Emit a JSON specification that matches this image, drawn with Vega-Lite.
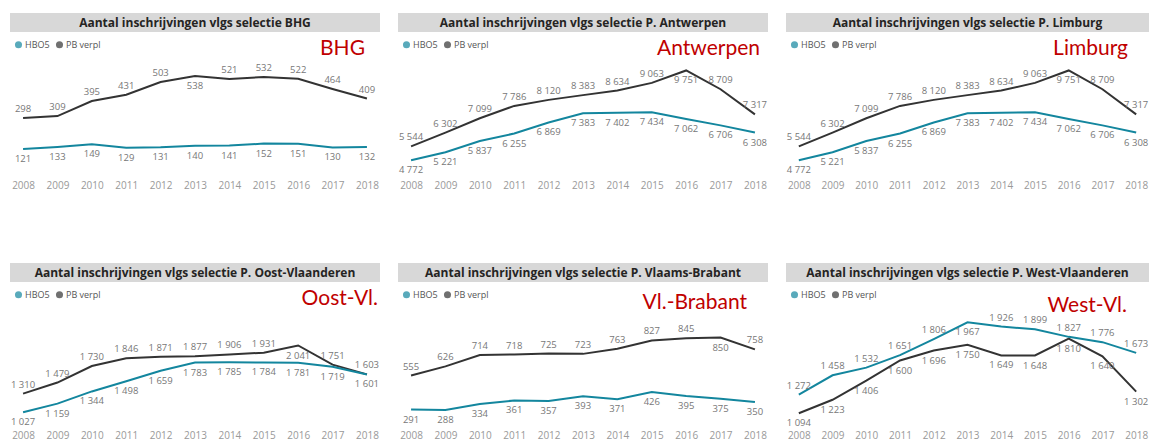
{
"$schema": "https://vega.github.io/schema/vega-lite/v6.json",
"padding": {"left": 10, "top": 13, "right": 0, "bottom": 0},
"background": "white",
"datasets": {"d": [
{"p":"BHG","s":"PB verpl","y":"2008","v":298},{"p":"BHG","s":"PB verpl","y":"2009","v":309},{"p":"BHG","s":"PB verpl","y":"2010","v":395},{"p":"BHG","s":"PB verpl","y":"2011","v":431},{"p":"BHG","s":"PB verpl","y":"2012","v":503},{"p":"BHG","s":"PB verpl","y":"2013","v":538},{"p":"BHG","s":"PB verpl","y":"2014","v":521},{"p":"BHG","s":"PB verpl","y":"2015","v":532},{"p":"BHG","s":"PB verpl","y":"2016","v":522},{"p":"BHG","s":"PB verpl","y":"2017","v":464},{"p":"BHG","s":"PB verpl","y":"2018","v":409},
{"p":"BHG","s":"HBO5","y":"2008","v":121},{"p":"BHG","s":"HBO5","y":"2009","v":133},{"p":"BHG","s":"HBO5","y":"2010","v":149},{"p":"BHG","s":"HBO5","y":"2011","v":129},{"p":"BHG","s":"HBO5","y":"2012","v":131},{"p":"BHG","s":"HBO5","y":"2013","v":140},{"p":"BHG","s":"HBO5","y":"2014","v":141},{"p":"BHG","s":"HBO5","y":"2015","v":152},{"p":"BHG","s":"HBO5","y":"2016","v":151},{"p":"BHG","s":"HBO5","y":"2017","v":130},{"p":"BHG","s":"HBO5","y":"2018","v":132},
{"p":"ANT","s":"PB verpl","y":"2008","v":5544},{"p":"ANT","s":"PB verpl","y":"2009","v":6302},{"p":"ANT","s":"PB verpl","y":"2010","v":7099},{"p":"ANT","s":"PB verpl","y":"2011","v":7786},{"p":"ANT","s":"PB verpl","y":"2012","v":8120},{"p":"ANT","s":"PB verpl","y":"2013","v":8383},{"p":"ANT","s":"PB verpl","y":"2014","v":8634},{"p":"ANT","s":"PB verpl","y":"2015","v":9063},{"p":"ANT","s":"PB verpl","y":"2016","v":9751},{"p":"ANT","s":"PB verpl","y":"2017","v":8709},{"p":"ANT","s":"PB verpl","y":"2018","v":7317},
{"p":"ANT","s":"HBO5","y":"2008","v":4772},{"p":"ANT","s":"HBO5","y":"2009","v":5221},{"p":"ANT","s":"HBO5","y":"2010","v":5837},{"p":"ANT","s":"HBO5","y":"2011","v":6255},{"p":"ANT","s":"HBO5","y":"2012","v":6869},{"p":"ANT","s":"HBO5","y":"2013","v":7383},{"p":"ANT","s":"HBO5","y":"2014","v":7402},{"p":"ANT","s":"HBO5","y":"2015","v":7434},{"p":"ANT","s":"HBO5","y":"2016","v":7062},{"p":"ANT","s":"HBO5","y":"2017","v":6706},{"p":"ANT","s":"HBO5","y":"2018","v":6308},
{"p":"LIM","s":"PB verpl","y":"2008","v":5544},{"p":"LIM","s":"PB verpl","y":"2009","v":6302},{"p":"LIM","s":"PB verpl","y":"2010","v":7099},{"p":"LIM","s":"PB verpl","y":"2011","v":7786},{"p":"LIM","s":"PB verpl","y":"2012","v":8120},{"p":"LIM","s":"PB verpl","y":"2013","v":8383},{"p":"LIM","s":"PB verpl","y":"2014","v":8634},{"p":"LIM","s":"PB verpl","y":"2015","v":9063},{"p":"LIM","s":"PB verpl","y":"2016","v":9751},{"p":"LIM","s":"PB verpl","y":"2017","v":8709},{"p":"LIM","s":"PB verpl","y":"2018","v":7317},
{"p":"LIM","s":"HBO5","y":"2008","v":4772},{"p":"LIM","s":"HBO5","y":"2009","v":5221},{"p":"LIM","s":"HBO5","y":"2010","v":5837},{"p":"LIM","s":"HBO5","y":"2011","v":6255},{"p":"LIM","s":"HBO5","y":"2012","v":6869},{"p":"LIM","s":"HBO5","y":"2013","v":7383},{"p":"LIM","s":"HBO5","y":"2014","v":7402},{"p":"LIM","s":"HBO5","y":"2015","v":7434},{"p":"LIM","s":"HBO5","y":"2016","v":7062},{"p":"LIM","s":"HBO5","y":"2017","v":6706},{"p":"LIM","s":"HBO5","y":"2018","v":6308},
{"p":"OVL","s":"PB verpl","y":"2008","v":1310},{"p":"OVL","s":"PB verpl","y":"2009","v":1479},{"p":"OVL","s":"PB verpl","y":"2010","v":1730},{"p":"OVL","s":"PB verpl","y":"2011","v":1846},{"p":"OVL","s":"PB verpl","y":"2012","v":1871},{"p":"OVL","s":"PB verpl","y":"2013","v":1877},{"p":"OVL","s":"PB verpl","y":"2014","v":1906},{"p":"OVL","s":"PB verpl","y":"2015","v":1931},{"p":"OVL","s":"PB verpl","y":"2016","v":2041},{"p":"OVL","s":"PB verpl","y":"2017","v":1751},{"p":"OVL","s":"PB verpl","y":"2018","v":1603},
{"p":"OVL","s":"HBO5","y":"2008","v":1027},{"p":"OVL","s":"HBO5","y":"2009","v":1159},{"p":"OVL","s":"HBO5","y":"2010","v":1344},{"p":"OVL","s":"HBO5","y":"2011","v":1498},{"p":"OVL","s":"HBO5","y":"2012","v":1659},{"p":"OVL","s":"HBO5","y":"2013","v":1783},{"p":"OVL","s":"HBO5","y":"2014","v":1785},{"p":"OVL","s":"HBO5","y":"2015","v":1784},{"p":"OVL","s":"HBO5","y":"2016","v":1781},{"p":"OVL","s":"HBO5","y":"2017","v":1719},{"p":"OVL","s":"HBO5","y":"2018","v":1601},
{"p":"VBR","s":"PB verpl","y":"2008","v":555},{"p":"VBR","s":"PB verpl","y":"2009","v":626},{"p":"VBR","s":"PB verpl","y":"2010","v":714},{"p":"VBR","s":"PB verpl","y":"2011","v":718},{"p":"VBR","s":"PB verpl","y":"2012","v":725},{"p":"VBR","s":"PB verpl","y":"2013","v":723},{"p":"VBR","s":"PB verpl","y":"2014","v":763},{"p":"VBR","s":"PB verpl","y":"2015","v":827},{"p":"VBR","s":"PB verpl","y":"2016","v":845},{"p":"VBR","s":"PB verpl","y":"2017","v":850},{"p":"VBR","s":"PB verpl","y":"2018","v":758},
{"p":"VBR","s":"HBO5","y":"2008","v":291},{"p":"VBR","s":"HBO5","y":"2009","v":288},{"p":"VBR","s":"HBO5","y":"2010","v":334},{"p":"VBR","s":"HBO5","y":"2011","v":361},{"p":"VBR","s":"HBO5","y":"2012","v":357},{"p":"VBR","s":"HBO5","y":"2013","v":393},{"p":"VBR","s":"HBO5","y":"2014","v":371},{"p":"VBR","s":"HBO5","y":"2015","v":426},{"p":"VBR","s":"HBO5","y":"2016","v":395},{"p":"VBR","s":"HBO5","y":"2017","v":375},{"p":"VBR","s":"HBO5","y":"2018","v":350},
{"p":"WVL","s":"PB verpl","y":"2008","v":1094},{"p":"WVL","s":"PB verpl","y":"2009","v":1223},{"p":"WVL","s":"PB verpl","y":"2010","v":1406},{"p":"WVL","s":"PB verpl","y":"2011","v":1600},{"p":"WVL","s":"PB verpl","y":"2012","v":1696},{"p":"WVL","s":"PB verpl","y":"2013","v":1750},{"p":"WVL","s":"PB verpl","y":"2014","v":1649},{"p":"WVL","s":"PB verpl","y":"2015","v":1648},{"p":"WVL","s":"PB verpl","y":"2016","v":1810},{"p":"WVL","s":"PB verpl","y":"2017","v":1640},{"p":"WVL","s":"PB verpl","y":"2018","v":1302},
{"p":"WVL","s":"HBO5","y":"2008","v":1272},{"p":"WVL","s":"HBO5","y":"2009","v":1458},{"p":"WVL","s":"HBO5","y":"2010","v":1532},{"p":"WVL","s":"HBO5","y":"2011","v":1651},{"p":"WVL","s":"HBO5","y":"2012","v":1806},{"p":"WVL","s":"HBO5","y":"2013","v":1967},{"p":"WVL","s":"HBO5","y":"2014","v":1926},{"p":"WVL","s":"HBO5","y":"2015","v":1899},{"p":"WVL","s":"HBO5","y":"2016","v":1827},{"p":"WVL","s":"HBO5","y":"2017","v":1776},{"p":"WVL","s":"HBO5","y":"2018","v":1673}
]},
"columns": 3,
"spacing": {"row": 73, "column": 18},
"resolve": {"scale": {"color": "independent"}, "legend": {"color": "independent"}},
"concat": [
{"spacing": 4, "resolve": {"scale": {"color": "independent"}, "legend": {"color": "independent"}}, "vconcat": [
 {"width": 370, "height": 19, "data": {"values": [{}]}, "view": {"fill": "#d8d8d8", "stroke": null}, "mark": {"type": "text", "fontWeight": "bold", "fontSize": 12, "color": "#252423", "font": "Open Sans"}, "encoding": {"text": {"value": "Aantal inschrijvingen vlgs selectie BHG"}}},
 {"width": 370, "height": 136, "data": {"name": "d"},
  "transform": [{"filter": "datum.p === 'BHG'"}, {"joinaggregate": [{"op": "max", "field": "v", "as": "mx"}], "groupby": ["y"]}, {"joinaggregate": [{"op": "max", "field": "v", "as": "pmax"}]}],
  "title": {"text": "BHG", "orient": "top", "anchor": "end", "frame": "group", "offset": -40, "dx": -15, "baseline": "alphabetic", "color": "#C00000", "font": "Lato", "fontSize": 21, "fontWeight": "normal"},
  "encoding": {
   "x": {"field": "y", "type": "ordinal", "scale": {"type": "point", "padding": 0.38}, "axis": {"title": null, "labelAngle": 0, "domain": false, "ticks": false, "grid": false, "labelPadding": 8, "labelFontSize": 10, "labelColor": "#999"}},
   "y": {"field": "v", "type": "quantitative", "scale": {"domain": [-10, 766], "nice": false, "zero": false}, "axis": null},
   "color": {"field": "s", "type": "nominal", "scale": {"domain": ["HBO5", "PB verpl"], "range": ["#13869E", "#333333"]}, "legend": {"title": null, "orient": "top-left", "direction": "horizontal", "offset": 4, "symbolType": "circle", "symbolSize": 50, "symbolStrokeWidth": 0, "labelFontSize": 9, "labelColor": "#555", "columnPadding": 5, "labelOffset": 2, "padding": 0}}
  },
  "layer": [
   {"mark": {"type": "point", "filled": true, "size": 0}},
   {"mark": {"type": "line", "strokeWidth": 2}},
   {"transform": [{"filter": "datum.v === datum.mx && datum.v !== datum.pmax"}], "mark": {"type": "text", "dy": -9, "fontSize": 9.5}, "encoding": {"text": {"field": "v", "type": "quantitative", "format": ",d"}, "color": {"value": "#777"}}},
   {"transform": [{"filter": "datum.v !== datum.mx || datum.v === datum.pmax"}], "mark": {"type": "text", "dy": 10, "fontSize": 9.5}, "encoding": {"text": {"field": "v", "type": "quantitative", "format": ",d"}, "color": {"value": "#777"}}}
  ]}
]},
{"spacing": 4, "resolve": {"scale": {"color": "independent"}, "legend": {"color": "independent"}}, "vconcat": [
 {"width": 370, "height": 19, "data": {"values": [{}]}, "view": {"fill": "#d8d8d8", "stroke": null}, "mark": {"type": "text", "fontWeight": "bold", "fontSize": 12, "color": "#252423", "font": "Open Sans"}, "encoding": {"text": {"value": "Aantal inschrijvingen vlgs selectie P. Antwerpen"}}},
 {"width": 370, "height": 136, "data": {"name": "d"},
  "transform": [{"filter": "datum.p === 'ANT'"}, {"joinaggregate": [{"op": "max", "field": "v", "as": "mx"}], "groupby": ["y"]}, {"joinaggregate": [{"op": "max", "field": "v", "as": "pmax"}]}],
  "title": {"text": "Antwerpen", "orient": "top", "anchor": "end", "frame": "group", "offset": -40, "dx": -8, "baseline": "alphabetic", "color": "#C00000", "font": "Lato", "fontSize": 21, "fontWeight": "normal"},
  "encoding": {
   "x": {"field": "y", "type": "ordinal", "scale": {"type": "point", "padding": 0.38}, "axis": {"title": null, "labelAngle": 0, "domain": false, "ticks": false, "grid": false, "labelPadding": 8, "labelFontSize": 10, "labelColor": "#999"}},
   "y": {"field": "v", "type": "quantitative", "scale": {"domain": [4122, 11660], "nice": false, "zero": false}, "axis": null},
   "color": {"field": "s", "type": "nominal", "scale": {"domain": ["HBO5", "PB verpl"], "range": ["#13869E", "#333333"]}, "legend": {"title": null, "orient": "top-left", "direction": "horizontal", "offset": 4, "symbolType": "circle", "symbolSize": 50, "symbolStrokeWidth": 0, "labelFontSize": 9, "labelColor": "#555", "columnPadding": 5, "labelOffset": 2, "padding": 0}}
  },
  "layer": [
   {"mark": {"type": "point", "filled": true, "size": 0}},
   {"mark": {"type": "line", "strokeWidth": 2}},
   {"transform": [{"filter": "datum.v === datum.mx && datum.v !== datum.pmax"}], "mark": {"type": "text", "dy": -9, "fontSize": 9.5}, "encoding": {"text": {"field": "v", "type": "quantitative", "format": ",d"}, "color": {"value": "#777"}}},
   {"transform": [{"filter": "datum.v !== datum.mx || datum.v === datum.pmax"}], "mark": {"type": "text", "dy": 10, "fontSize": 9.5}, "encoding": {"text": {"field": "v", "type": "quantitative", "format": ",d"}, "color": {"value": "#777"}}}
  ]}
]},
{"spacing": 4, "resolve": {"scale": {"color": "independent"}, "legend": {"color": "independent"}}, "vconcat": [
 {"width": 363, "height": 19, "data": {"values": [{}]}, "view": {"fill": "#d8d8d8", "stroke": null}, "mark": {"type": "text", "fontWeight": "bold", "fontSize": 12, "color": "#252423", "font": "Open Sans"}, "encoding": {"text": {"value": "Aantal inschrijvingen vlgs selectie P. Limburg"}}},
 {"width": 363, "height": 136, "data": {"name": "d"},
  "transform": [{"filter": "datum.p === 'LIM'"}, {"joinaggregate": [{"op": "max", "field": "v", "as": "mx"}], "groupby": ["y"]}, {"joinaggregate": [{"op": "max", "field": "v", "as": "pmax"}]}],
  "title": {"text": "Limburg", "orient": "top", "anchor": "end", "frame": "group", "offset": -40, "dx": -21, "baseline": "alphabetic", "color": "#C00000", "font": "Lato", "fontSize": 21, "fontWeight": "normal"},
  "encoding": {
   "x": {"field": "y", "type": "ordinal", "scale": {"type": "point", "padding": 0.38}, "axis": {"title": null, "labelAngle": 0, "domain": false, "ticks": false, "grid": false, "labelPadding": 8, "labelFontSize": 10, "labelColor": "#999"}},
   "y": {"field": "v", "type": "quantitative", "scale": {"domain": [4122, 11660], "nice": false, "zero": false}, "axis": null},
   "color": {"field": "s", "type": "nominal", "scale": {"domain": ["HBO5", "PB verpl"], "range": ["#13869E", "#333333"]}, "legend": {"title": null, "orient": "top-left", "direction": "horizontal", "offset": 4, "symbolType": "circle", "symbolSize": 50, "symbolStrokeWidth": 0, "labelFontSize": 9, "labelColor": "#555", "columnPadding": 5, "labelOffset": 2, "padding": 0}}
  },
  "layer": [
   {"mark": {"type": "point", "filled": true, "size": 0}},
   {"mark": {"type": "line", "strokeWidth": 2}},
   {"transform": [{"filter": "datum.v === datum.mx && datum.v !== datum.pmax"}], "mark": {"type": "text", "dy": -9, "fontSize": 9.5}, "encoding": {"text": {"field": "v", "type": "quantitative", "format": ",d"}, "color": {"value": "#777"}}},
   {"transform": [{"filter": "datum.v !== datum.mx || datum.v === datum.pmax"}], "mark": {"type": "text", "dy": 10, "fontSize": 9.5}, "encoding": {"text": {"field": "v", "type": "quantitative", "format": ",d"}, "color": {"value": "#777"}}}
  ]}
]},
{"spacing": 4, "resolve": {"scale": {"color": "independent"}, "legend": {"color": "independent"}}, "vconcat": [
 {"width": 370, "height": 19, "data": {"values": [{}]}, "view": {"fill": "#d8d8d8", "stroke": null}, "mark": {"type": "text", "fontWeight": "bold", "fontSize": 12, "color": "#252423", "font": "Open Sans"}, "encoding": {"text": {"value": "Aantal inschrijvingen vlgs selectie P. Oost-Vlaanderen"}}},
 {"width": 370, "height": 136, "data": {"name": "d"},
  "transform": [{"filter": "datum.p === 'OVL'"}, {"joinaggregate": [{"op": "max", "field": "v", "as": "mx"}], "groupby": ["y"]}, {"joinaggregate": [{"op": "max", "field": "v", "as": "pmax"}]}],
  "title": {"text": "Oost-Vl.", "orient": "top", "anchor": "end", "frame": "group", "offset": -40, "dx": -2, "baseline": "alphabetic", "color": "#C00000", "font": "Lato", "fontSize": 21, "fontWeight": "normal"},
  "encoding": {
   "x": {"field": "y", "type": "ordinal", "scale": {"type": "point", "padding": 0.38}, "axis": {"title": null, "labelAngle": 0, "domain": false, "ticks": false, "grid": false, "labelPadding": 8, "labelFontSize": 10, "labelColor": "#999"}},
   "y": {"field": "v", "type": "quantitative", "scale": {"domain": [880, 2944], "nice": false, "zero": false}, "axis": null},
   "color": {"field": "s", "type": "nominal", "scale": {"domain": ["HBO5", "PB verpl"], "range": ["#13869E", "#333333"]}, "legend": {"title": null, "orient": "top-left", "direction": "horizontal", "offset": 4, "symbolType": "circle", "symbolSize": 50, "symbolStrokeWidth": 0, "labelFontSize": 9, "labelColor": "#555", "columnPadding": 5, "labelOffset": 2, "padding": 0}}
  },
  "layer": [
   {"mark": {"type": "point", "filled": true, "size": 0}},
   {"mark": {"type": "line", "strokeWidth": 2}},
   {"transform": [{"filter": "datum.v === datum.mx && datum.v !== datum.pmax"}], "mark": {"type": "text", "dy": -9, "fontSize": 9.5}, "encoding": {"text": {"field": "v", "type": "quantitative", "format": ",d"}, "color": {"value": "#777"}}},
   {"transform": [{"filter": "datum.v !== datum.mx || datum.v === datum.pmax"}], "mark": {"type": "text", "dy": 10, "fontSize": 9.5}, "encoding": {"text": {"field": "v", "type": "quantitative", "format": ",d"}, "color": {"value": "#777"}}}
  ]}
]},
{"spacing": 4, "resolve": {"scale": {"color": "independent"}, "legend": {"color": "independent"}}, "vconcat": [
 {"width": 370, "height": 19, "data": {"values": [{}]}, "view": {"fill": "#d8d8d8", "stroke": null}, "mark": {"type": "text", "fontWeight": "bold", "fontSize": 12, "color": "#252423", "font": "Open Sans"}, "encoding": {"text": {"value": "Aantal inschrijvingen vlgs selectie P. Vlaams-Brabant"}}},
 {"width": 370, "height": 136, "data": {"name": "d"},
  "transform": [{"filter": "datum.p === 'VBR'"}, {"joinaggregate": [{"op": "max", "field": "v", "as": "mx"}], "groupby": ["y"]}, {"joinaggregate": [{"op": "max", "field": "v", "as": "pmax"}]}],
  "title": {"text": "Vl.-Brabant", "orient": "top", "anchor": "end", "frame": "group", "offset": -44, "dx": -21, "baseline": "alphabetic", "color": "#C00000", "font": "Lato", "fontSize": 21, "fontWeight": "normal"},
  "encoding": {
   "x": {"field": "y", "type": "ordinal", "scale": {"type": "point", "padding": 0.38}, "axis": {"title": null, "labelAngle": 0, "domain": false, "ticks": false, "grid": false, "labelPadding": 8, "labelFontSize": 10, "labelColor": "#999"}},
   "y": {"field": "v", "type": "quantitative", "scale": {"domain": [194, 1250], "nice": false, "zero": false}, "axis": null},
   "color": {"field": "s", "type": "nominal", "scale": {"domain": ["HBO5", "PB verpl"], "range": ["#13869E", "#333333"]}, "legend": {"title": null, "orient": "top-left", "direction": "horizontal", "offset": 4, "symbolType": "circle", "symbolSize": 50, "symbolStrokeWidth": 0, "labelFontSize": 9, "labelColor": "#555", "columnPadding": 5, "labelOffset": 2, "padding": 0}}
  },
  "layer": [
   {"mark": {"type": "point", "filled": true, "size": 0}},
   {"mark": {"type": "line", "strokeWidth": 2}},
   {"transform": [{"filter": "datum.v === datum.mx && datum.v !== datum.pmax"}], "mark": {"type": "text", "dy": -9, "fontSize": 9.5}, "encoding": {"text": {"field": "v", "type": "quantitative", "format": ",d"}, "color": {"value": "#777"}}},
   {"transform": [{"filter": "datum.v !== datum.mx || datum.v === datum.pmax"}], "mark": {"type": "text", "dy": 10, "fontSize": 9.5}, "encoding": {"text": {"field": "v", "type": "quantitative", "format": ",d"}, "color": {"value": "#777"}}}
  ]}
]},
{"spacing": 4, "resolve": {"scale": {"color": "independent"}, "legend": {"color": "independent"}}, "vconcat": [
 {"width": 363, "height": 19, "data": {"values": [{}]}, "view": {"fill": "#d8d8d8", "stroke": null}, "mark": {"type": "text", "fontWeight": "bold", "fontSize": 12, "color": "#252423", "font": "Open Sans"}, "encoding": {"text": {"value": "Aantal inschrijvingen vlgs selectie P. West-Vlaanderen"}}},
 {"width": 363, "height": 136, "data": {"name": "d"},
  "transform": [{"filter": "datum.p === 'WVL'"}, {"joinaggregate": [{"op": "max", "field": "v", "as": "mx"}], "groupby": ["y"]}, {"joinaggregate": [{"op": "max", "field": "v", "as": "pmax"}]}],
  "title": {"text": "West-Vl.", "orient": "top", "anchor": "end", "frame": "group", "offset": -47, "dx": -22, "baseline": "alphabetic", "color": "#C00000", "font": "Lato", "fontSize": 21, "fontWeight": "normal"},
  "encoding": {
   "x": {"field": "y", "type": "ordinal", "scale": {"type": "point", "padding": 0.38}, "axis": {"title": null, "labelAngle": 0, "domain": false, "ticks": false, "grid": false, "labelPadding": 8, "labelFontSize": 10, "labelColor": "#999"}},
   "y": {"field": "v", "type": "quantitative", "scale": {"domain": [1010, 2315], "nice": false, "zero": false}, "axis": null},
   "color": {"field": "s", "type": "nominal", "scale": {"domain": ["HBO5", "PB verpl"], "range": ["#13869E", "#333333"]}, "legend": {"title": null, "orient": "top-left", "direction": "horizontal", "offset": 4, "symbolType": "circle", "symbolSize": 50, "symbolStrokeWidth": 0, "labelFontSize": 9, "labelColor": "#555", "columnPadding": 5, "labelOffset": 2, "padding": 0}}
  },
  "layer": [
   {"mark": {"type": "point", "filled": true, "size": 0}},
   {"mark": {"type": "line", "strokeWidth": 2}},
   {"transform": [{"filter": "datum.v === datum.mx && datum.v !== datum.pmax"}], "mark": {"type": "text", "dy": -9, "fontSize": 9.5}, "encoding": {"text": {"field": "v", "type": "quantitative", "format": ",d"}, "color": {"value": "#777"}}},
   {"transform": [{"filter": "datum.v !== datum.mx || datum.v === datum.pmax"}], "mark": {"type": "text", "dy": 10, "fontSize": 9.5}, "encoding": {"text": {"field": "v", "type": "quantitative", "format": ",d"}, "color": {"value": "#777"}}}
  ]}
]}
],
"config": {
 "font": "Open Sans",
 "view": {"stroke": null},
 "locale": {"number": {"decimal": ",", "thousands": " ", "grouping": [3], "currency": ["€", ""]}},
 "axis": {"labelFont": "Open Sans", "labelFontWeight": "normal"},
 "legend": {"labelFont": "Open Sans"}
}
}
